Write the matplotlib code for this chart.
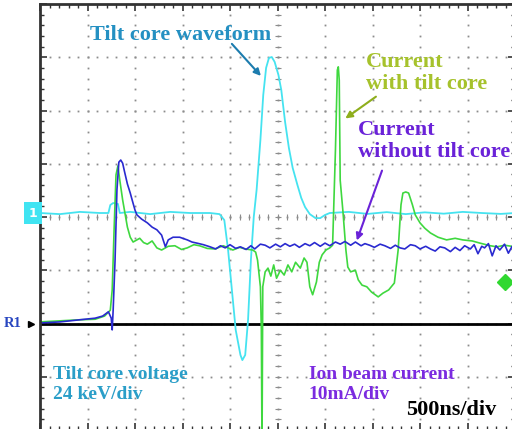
import numpy as np
import matplotlib
matplotlib.use("Agg")
import matplotlib.pyplot as plt

# oscilloscope settings
NS_PER_DIV = 500
KV_PER_DIV = 24
MA_PER_DIV = 10
TILT_ZERO = 0.075   # channel 1 ground marker (div)
CUR_ZERO = -2.0     # R1 ground marker (div)

# tilt core voltage (kV) vs time (ns)
tilt_t = [0, 210, 420, 630, 720, 740, 770, 820, 840, 950, 1160, 1370, 1580, 1790,
          1890, 1940, 1980, 2020, 2060, 2110, 2130, 2160, 2190, 2220, 2250, 2280,
          2320, 2350, 2380, 2410, 2440, 2470, 2510, 2540, 2580, 2620, 2660, 2710,
          2750, 2790, 2840, 2900, 2950, 3000, 3050, 3250, 3450, 3650, 3850, 4050,
          4250, 4450, 4650, 4850, 5000]
tilt_kv = [0, -0.5, 0.5, 0, 0, 3.6, 4.5, 4.1, 0, 0.5, -0.5, 0.5, 0, 0,
           -0.5, -3.2, -16.7, -34.7, -52.7, -64.0, -66.3, -64.0, -48.2, -21.2, -1.8, 10.4,
           32.9, 53.2, 65.4, 69.9, 70.3, 68.1, 62.2, 55.4, 41.0, 29.3, 20.3, 12.6,
           6.8, 2.7, -0.5, -2.3, -2.3, -0.9, 0, 0.5, -0.4, 0.4, -0.5, 0.3,
           -0.3, 0.5, 0, -0.4, 0]

# ion beam current with tilt core (mA)
with_t = [0, 210, 420, 580, 680, 740, 760, 780, 800, 820, 840, 870, 920, 950, 980,
          1020, 1050, 1090, 1130, 1180, 1230, 1280, 1350, 1420, 1490, 1550, 1620, 1680,
          1760, 1840, 1930, 2030, 2100, 2160, 2240,
          2270, 2290, 2320, 2330, 2337, 2345, 2370, 2400, 2430, 2460, 2490, 2530,
          2570, 2610, 2650, 2690, 2740, 2780, 2810, 2840, 2870, 2910, 2940, 2970,
          3010, 3050, 3080, 3110, 3130, 3140, 3150, 3160, 3190, 3220, 3240, 3270,
          3320, 3350, 3390, 3440, 3490, 3560, 3610, 3670, 3730, 3770, 3800, 3820,
          3850, 3880, 3920, 3950, 4000, 4050, 4110, 4190, 4280, 4370, 4450, 4550,
          4630, 4740, 4810, 4890, 5000]
with_ma = [0.3, 0.5, 0.7, 0.8, 1.4, 2.5, 6.3, 17.6, 27.9, 29.6, 26.9, 23.2, 18.1, 16.2, 15.3,
           15.7, 16.0, 15.2, 14.9, 15.5, 14.2, 13.8, 14.5, 14.6, 13.9, 14.2, 14.8, 14.6,
           14.1, 14.0, 14.6, 13.8, 14.3, 14.0, 13.8,
           13.4, 11.9, 6.9, -1.2, -23.8, 6.9, 9.7, 10.4, 8.9, 11.0, 8.5, 10.0,
           9.1, 11.0, 9.7, 11.5, 10.4, 12.3, 11.5, 6.9, 5.4, 7.8, 11.5, 12.9,
           13.8, 14.2, 14.7, 32.6, 47.6, 48.2, 45.7, 26.9, 20.8, 13.8, 10.6, 9.7,
           10.0, 8.2, 7.2, 6.9, 5.9, 5.0, 5.7, 6.3, 7.6, 13.8, 22.3, 24.5,
           24.7, 24.5, 22.3, 20.4, 18.9, 17.9, 17.0, 16.2, 15.7, 16.0, 15.7, 15.5,
           15.1, 14.6, 14.4, 14.7, 14.4]

# ion beam current without tilt core (mA)
without_t = [0, 210, 420, 580, 660, 720, 750, 760, 770, 790, 810, 830, 850, 870, 890,
             920, 950, 970, 1000, 1020, 1070, 1130, 1180, 1230, 1280, 1320, 1350, 1400,
             1470, 1550, 1600, 1650, 1720,
             1790, 1850, 1900, 1950, 2000, 2060, 2110, 2170, 2220, 2260, 2320, 2370,
             2420, 2480, 2530, 2580, 2630, 2680, 2730, 2790, 2840, 2890, 2950, 3000,
             3050, 3110, 3160, 3210, 3270, 3320, 3380, 3420, 3470, 3520, 3580, 3630,
             3690, 3740, 3790, 3840, 3900, 3950, 4000, 4060, 4110, 4160, 4210, 4260,
             4320, 4370, 4420, 4470, 4530, 4570, 4610, 4650, 4680, 4720, 4760, 4800,
             4840, 4890, 4930, 4970, 5000]
without_ma = [0.1, 0.3, 0.7, 1.0, 1.4, 2.2, 1.0, -1.2, 2.5, 11.9, 25.1, 30.3, 30.7, 30.1, 28.5,
              26.2, 24.5, 23.2, 21.3, 20.4, 19.6, 18.9, 18.1, 17.6, 16.6, 14.4, 15.7, 16.2,
              16.2, 15.7, 15.3, 15.1, 14.8,
              14.4, 14.0, 14.6, 14.2, 14.8, 14.1, 14.4, 13.9, 14.6, 14.0, 14.9, 14.7,
              14.2, 14.9, 14.4, 15.0, 14.5, 14.9, 14.3, 15.0, 14.6, 15.2, 14.5, 15.1,
              14.6, 15.3, 14.9, 15.4, 14.7, 15.3, 14.6, 15.0, 14.7, 14.3, 14.9, 14.6,
              14.1, 14.7, 14.2, 14.0, 14.8, 14.6, 14.0, 14.5, 14.0, 13.6, 14.4, 14.2,
              13.5, 14.3, 13.7, 14.6, 14.0, 14.8, 13.1, 14.5, 14.2, 15.0, 12.7, 14.6,
              13.8, 14.9, 13.2, 14.5, 14.0]

SERIF = "Liberation Serif"

fig = plt.figure(figsize=(5.12, 4.29), dpi=100)
ax = fig.add_axes([40 / 512, -1 / 429, 475 / 512, 426 / 429])
ax.set_xlim(0, 10 * NS_PER_DIV)
ax.set_ylim(-4, 4)

# dotted graticule
xmaj = np.arange(1, 10) * NS_PER_DIV
ymaj = np.arange(-3, 4)
xmin = np.arange(0, 50.1) * NS_PER_DIV / 5
ymin = np.arange(-20, 20.1) / 5
for x in xmaj:
    ax.plot(np.full(len(ymin), x), ymin, ls="none", marker="s", ms=1.3, color="#8c8c8c", mew=0)
for y in ymaj:
    ax.plot(xmin, np.full(len(xmin), y), ls="none", marker="s", ms=1.3, color="#8c8c8c", mew=0)
ax.plot(np.full(len(ymin), 5 * NS_PER_DIV), ymin, ls="none", marker="_", ms=4, color="#8c8c8c", mew=0.8)
ax.plot(xmin, np.zeros(len(xmin)), ls="none", marker="|", ms=4, color="#8c8c8c", mew=0.8)

# R1 reference line
ax.axhline(CUR_ZERO, color="black", lw=2)

ax.plot(np.array(tilt_t), np.array(tilt_kv) / KV_PER_DIV + TILT_ZERO, color="#45e3f0", lw=1.3)
ax.plot(np.array(with_t), np.array(with_ma) / MA_PER_DIV + CUR_ZERO, color="#3fd83f", lw=1.2)
ax.plot(np.array(without_t), np.array(without_ma) / MA_PER_DIV + CUR_ZERO, color="#2a2ad0", lw=1.2)

# channel markers
ax.text(-30, TILT_ZERO, "1", ha="right", va="center", color="white", fontsize=9,
        fontweight="bold", bbox=dict(fc="#40e4f2", ec="none", pad=3.5), clip_on=False)
ax.text(-190, CUR_ZERO, "R1", ha="right", va="center", color="#2846c0", fontsize=10.5,
        family=SERIF, fontweight="bold", clip_on=False)
ax.plot([-90], [CUR_ZERO], marker=">", color="black", ms=5, clip_on=False)
ax.plot([4890], [-1.22], marker="D", color="#30d830", ms=8, clip_on=False)

# labels
ax.text(1475, 3.42, "Tilt core waveform", ha="center", va="center", color="#2490c2",
        fontsize=16, family=SERIF, fontweight="bold")
ax.annotate("", xy=(2345, 2.61), xytext=(2000, 3.29),
            arrowprops=dict(arrowstyle="-|>", color="#1c7cae", lw=1.5, mutation_scale=10))
ax.text(3430, 2.70, "Current\nwith tilt core", ha="left", va="center", color="#a6c22c",
        fontsize=16, family=SERIF, fontweight="bold", linespacing=1.15)
ax.annotate("", xy=(3190, 1.82), xytext=(3560, 2.29),
            arrowprops=dict(arrowstyle="-|>", color="#8eae1c", lw=1.5, mutation_scale=10))
ax.text(3345, 1.43, "Current\nwithout tilt core", ha="left", va="center", color="#6a22d8",
        fontsize=16, family=SERIF, fontweight="bold", linespacing=1.15)
ax.annotate("", xy=(3325, -0.49), xytext=(3610, 0.92),
            arrowprops=dict(arrowstyle="-|>", color="#6a22d8", lw=1.5, mutation_scale=10))
ax.text(135, -3.14, "Tilt core voltage\n24 keV/div", ha="left", va="center", color="#2a9ec8",
        fontsize=14, family=SERIF, fontweight="bold", linespacing=1.25)
ax.text(2830, -3.14, "Ion beam current\n10mA/div", ha="left", va="center", color="#7b2be0",
        fontsize=14, family=SERIF, fontweight="bold", linespacing=1.25)
ax.text(3850, -3.62, "500ns/div", ha="left", va="center", color="black",
        fontsize=16, family=SERIF, fontweight="bold")

# frame and ticks
for s in ax.spines.values():
    s.set_color("#333333")
    s.set_linewidth(2)
ax.set_xticks(np.arange(0, 11) * NS_PER_DIV)
ax.set_yticks(np.arange(-4, 5))
ax.set_xticks(xmin, minor=True)
ax.set_yticks(ymin, minor=True)
ax.tick_params(which="both", direction="in", top=True, right=True, labelleft=False,
               labelbottom=False, color="#333333")
ax.tick_params(which="major", length=5, width=1.2)
ax.tick_params(which="minor", length=3, width=1)

fig.savefig("out.png", dpi=100)
